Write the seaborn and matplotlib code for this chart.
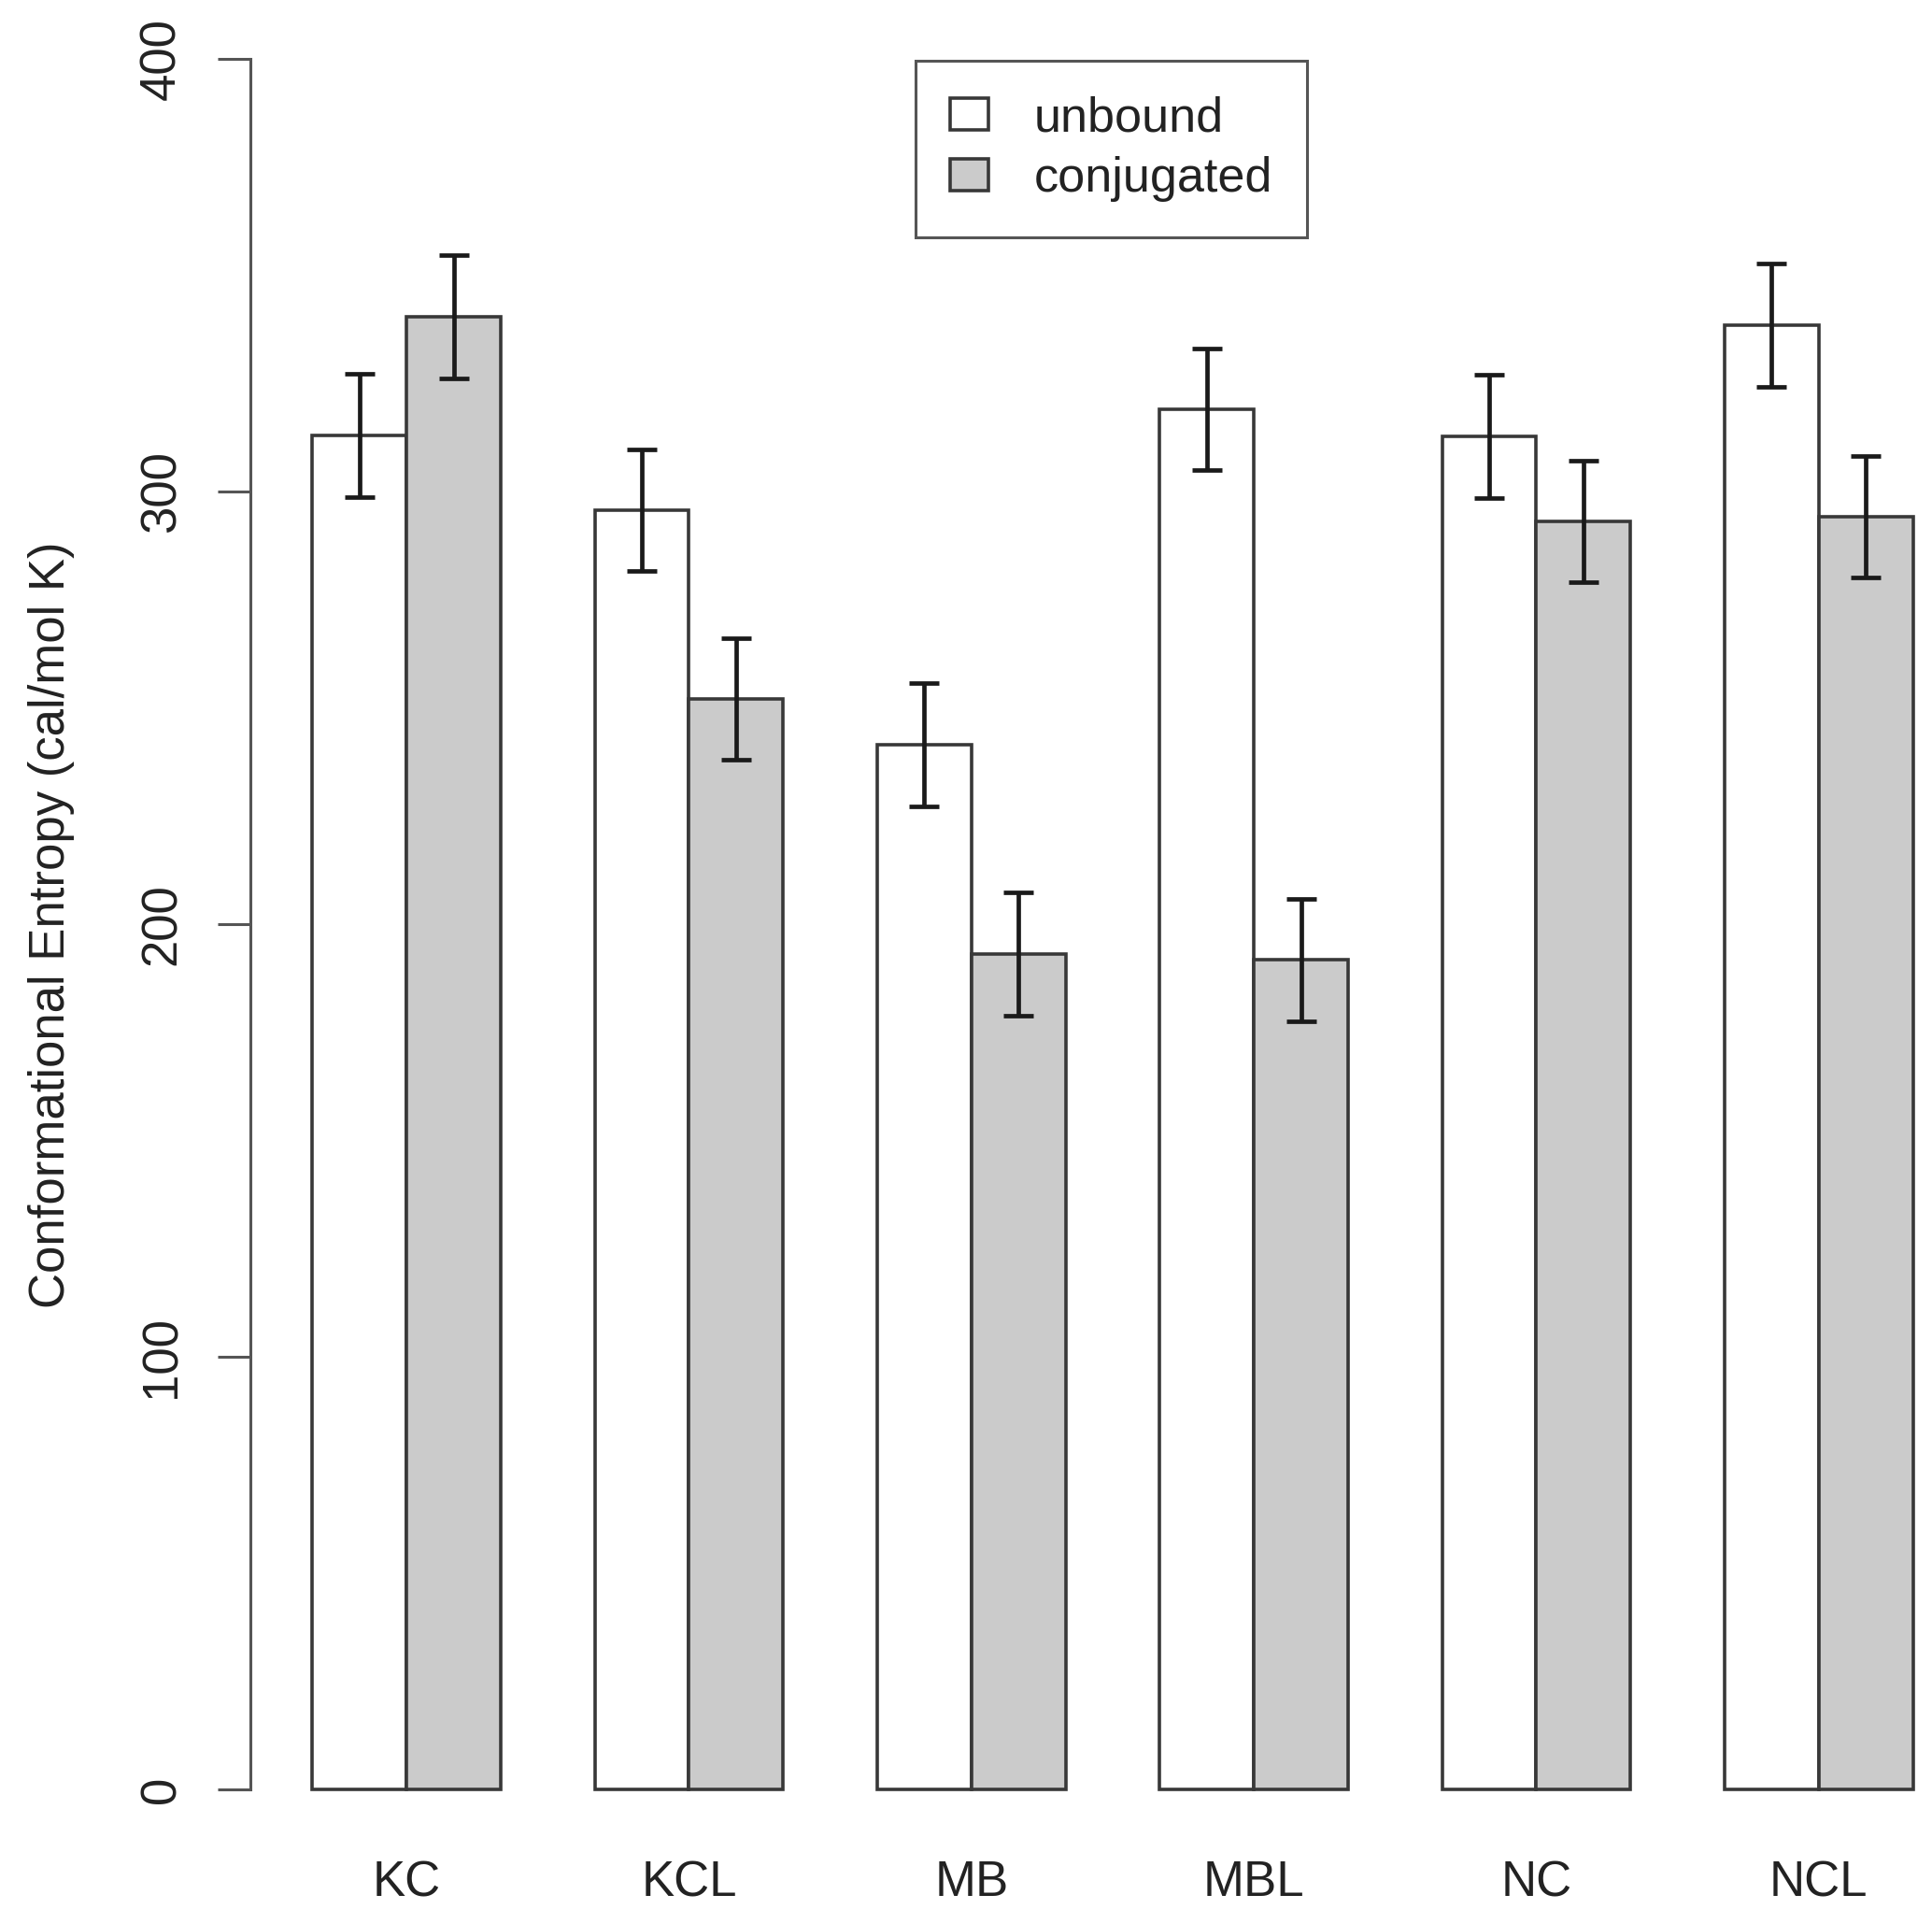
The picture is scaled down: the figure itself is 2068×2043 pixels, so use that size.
import matplotlib
matplotlib.use('Agg')
import numpy as np
import pandas as pd
import matplotlib.pyplot as plt
import seaborn as sns
from matplotlib.patches import Patch

# ---- data ----
categories = ['KC', 'KCL', 'MB', 'MBL', 'NC', 'NCL']
states = ['unbound', 'conjugated']
unbound = [313.0, 295.7, 241.5, 319.0, 312.8, 338.4]
conjugated = [340.4, 252.1, 193.1, 191.7, 293.1, 294.2]
unbound_err = [14.2, 14.1, 14.2, 14.0, 14.3, 14.2]
conjugated_err = [14.2, 14.1, 14.2, 14.2, 14.1, 14.1]
y_ticks = [0, 100, 200, 300, 400]
y_label = 'Conformational Entropy (cal/mol K)'

df = pd.DataFrame({
    'system': categories * 2,
    'state': ['unbound'] * len(categories) + ['conjugated'] * len(categories),
    'entropy': unbound + conjugated,
})
errs = {'unbound': unbound_err, 'conjugated': conjugated_err}

sns.set_theme(style='white')
plt.rcParams['font.family'] = ['Liberation Sans', 'DejaVu Sans']

W, H = 2068, 2043
fig = plt.figure(figsize=(W / 100, H / 100), dpi=100)
ax = fig.add_axes([268 / W, (H - 1940) / H, (W - 268) / W, 1900 / H])

palette = {'unbound': '#ffffff', 'conjugated': '#cbcbcb'}
edge = '#383838'
sns.barplot(data=df, x='system', y='entropy', hue='state', order=categories,
            hue_order=states, palette=palette, width=2 / 3, errorbar=None,
            edgecolor=edge, linewidth=2.6, saturation=1, legend=False, ax=ax)

# error bars centred on each bar
for container, st in zip(ax.containers, states):
    xs = [b.get_x() + b.get_width() / 2 for b in container]
    ys = [b.get_height() for b in container]
    ax.errorbar(xs, ys, yerr=errs[st], fmt='none', ecolor='#1a1a1a',
                elinewidth=3.4, capsize=11.2, capthick=3.4, zorder=5)

ax.set_xlim(-0.553, 5.401)
ax.set_ylim(-5.4, 404.97)
sns.despine(ax=ax, bottom=True)
ax.spines['left'].set_bounds(0, 400)
ax.spines['left'].set_color('#555555')
ax.spines['left'].set_linewidth(2.2)

ax.set_yticks(y_ticks)
ax.set_yticklabels([str(t) for t in y_ticks])
ax.tick_params(axis='y', length=25, width=2.2, color='#555555', pad=25,
               labelsize=38, labelcolor='#222222', labelrotation=90, left=True)
for lab in ax.get_yticklabels():
    lab.set_verticalalignment('center')
ax.tick_params(axis='x', length=0, pad=36, labelsize=38, labelcolor='#222222')

ax.set_xlabel('')
ax.set_ylabel(y_label, fontsize=38, color='#222222')
ax.yaxis.set_label_coords(-0.1044, 0.5)

handles = [Patch(facecolor=palette[s], edgecolor=edge, linewidth=2.6) for s in states]
leg = ax.legend(handles, states, loc='upper left',
                bbox_to_anchor=(980 / W, 1 - 65 / H), bbox_transform=fig.transFigure,
                borderaxespad=0, fontsize=37.5, frameon=True, fancybox=False,
                edgecolor='#555555', framealpha=1, borderpad=0.72, labelspacing=0.3,
                handlelength=0.78, handleheight=0.64, handletextpad=0.93)
leg.get_frame().set_linewidth(2.2)
for t in leg.get_texts():
    t.set_color('#222222')

fig.savefig('out.png', dpi=100, facecolor='white')
